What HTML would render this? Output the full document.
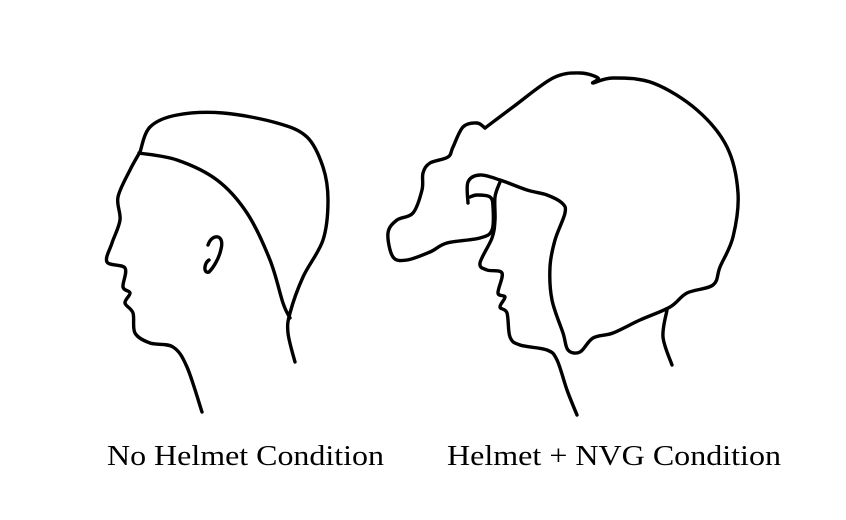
<!DOCTYPE html>
<html><head><meta charset="utf-8"><style>
html,body{margin:0;padding:0;background:#fff}
svg{display:block}
.l{fill:none;stroke:#000;stroke-width:3.4;stroke-linejoin:round;stroke-linecap:round}
text{font-family:"Liberation Serif",serif;font-size:28px;fill:#000}
</style></head><body>
<svg width="846" height="520" viewBox="0 0 846 520">
<g>
<path class="l s" data-pts="140,152 150,127 177,115 223,113 277,123 307,137 323,167 328,200 323,240 303,277 290,313 288,333 295,362"/>
<path class="l s" data-pts="140,152 130,170 118,197 120,220 112,243 107,262 125,268 123,287 130,293 125,303 133,313 135,333 150,343 173,347 187,367 202,412"/>
<path class="l s" data-pts="139,153 177,160 217,180 247,213 270,260 283,303 290,318"/>
<path class="l" d="M208,245 C212,233 225,234 221,249 C219,259 213,268 209,272 C203,274 204,263 209,260"/>
</g>
<g>
<path class="l s" data-pts="485,128 513,107 553,78 580,73 598,78 593,83 613,78 653,83 697,110 727,147 738,193 733,237 720,267 713,285 687,293 670,307 640,320 613,333 593,338 580,352 568,350 563,333 552,300 550,267 555,240 565,213 562,203 547,195 527,190 500,180 480,175 468,182 468,203"/>
<path class="l s" data-pts="485,128 477,123 463,127 453,147 448,157 430,163 423,173 422,190 413,213 397,220 388,233 393,257 407,260 430,252 447,243 480,238 492,230 493,207 490,197 477,195 470,197"/>
<path class="l s" data-pts="500,182 495,197 495,220 492,238 480,263 487,270 502,273 498,293 505,297 500,307 507,313 510,337 520,345 547,350 557,360 567,390 577,415"/>
<path class="l s" data-pts="667,310 663,337 672,365"/>
</g>
<text x="107" y="465" textLength="277" lengthAdjust="spacingAndGlyphs">No Helmet Condition</text>
<text x="447" y="465" textLength="334" lengthAdjust="spacingAndGlyphs">Helmet + NVG Condition</text>
</svg>
<script>
document.querySelectorAll('path.s').forEach(function(el){
  var p=el.getAttribute('data-pts').trim().split(/\s+/).map(function(s){return s.split(',').map(Number);});
  var d='M'+p[0][0]+','+p[0][1];
  for(var i=0;i<p.length-1;i++){
    var p0=p[i-1]||p[i],p1=p[i],p2=p[i+1],p3=p[i+2]||p2;
    var c1x=p1[0]+(p2[0]-p0[0])/6,c1y=p1[1]+(p2[1]-p0[1])/6;
    var c2x=p2[0]-(p3[0]-p1[0])/6,c2y=p2[1]-(p3[1]-p1[1])/6;
    d+=' C'+c1x.toFixed(1)+','+c1y.toFixed(1)+' '+c2x.toFixed(1)+','+c2y.toFixed(1)+' '+p2[0]+','+p2[1];
  }
  el.setAttribute('d',d);
});
</script>
</body></html>
